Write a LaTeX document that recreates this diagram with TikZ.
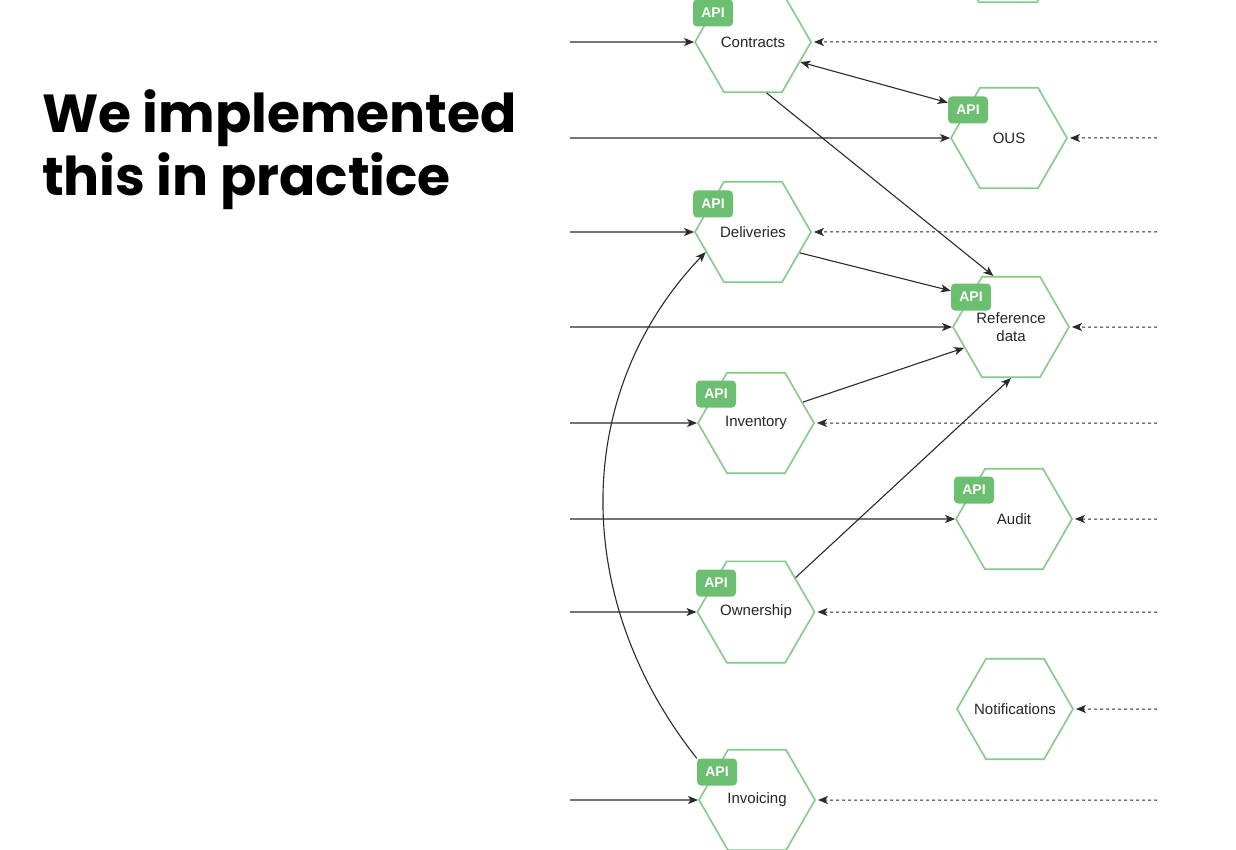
\documentclass[tikz,border=0pt]{standalone}
\usepackage{fontspec}
\setmainfont{Liberation Sans}
\newfontfamily\poppins{Poppins}
\usetikzlibrary{shapes.geometric,arrows.meta,calc}
\definecolor{hexline}{HTML}{86C98A}
\definecolor{apifill}{HTML}{6CBF70}
\definecolor{linec}{HTML}{2B2B2B}
\tikzset{
 hexa/.style={regular polygon, regular polygon sides=6, minimum size=116pt, draw=hexline, line width=1.6pt, inner sep=0pt, font=\fontsize{15}{18}\selectfont, text=black!85, align=center},
 apibox/.style={rectangle, rounded corners=4pt, fill=apifill, minimum width=40pt, minimum height=27pt, inner sep=0pt, text=white, font=\fontsize{14}{14}\selectfont\bfseries},
 conn/.style={draw=linec, line width=1.1pt, -{Stealth[length=10pt,width=8pt,inset=2.5pt]}},
 dconn/.style={draw=linec, line width=1pt, dash pattern=on 3pt off 3pt, -{Stealth[length=10pt,width=8pt,inset=2.5pt]}},
 biconn/.style={draw=linec, line width=1.1pt, {Stealth[length=10pt,width=8pt,inset=2.5pt]}-{Stealth[length=10pt,width=8pt,inset=2.5pt]}},
 titletext/.style={anchor=base west, inner sep=0pt, font=\poppins\bfseries\fontsize{53.5}{63}\selectfont}
}
\begin{document}
\begin{tikzpicture}[x=1pt,y=-1pt]
\clip (0,0) rectangle (1236,850);
\fill[white] (0,0) rectangle (1236,850);

% title
\node[titletext] (t1) at (42,133) {We implemented};
\node[titletext] (t2) at (42,196) {this in practice};

% hexagons
\node[hexa] (tophex) at (1008,-48) {};
\node[hexa] (contracts) at (753,42) {Contracts};
\node[hexa] (ous) at (1009,138) {OUS};
\node[hexa] (deliveries) at (753,232) {Deliveries};
\node[hexa] (ref) at (1011,327) {Reference\\data};
\node[hexa] (inventory) at (756,423) {Inventory};
\node[hexa] (audit) at (1014,519) {Audit};
\node[hexa] (ownership) at (756,612) {Ownership};
\node[hexa] (notif) at (1015,709) {\makebox[0pt]{Notifications}};
\node[hexa] (invoicing) at (757,800) {Invoicing};

% API badges
\node[apibox] (contractsapi) at (713,13) {API};
\node[apibox] (ousapi) at (968,110) {API};
\node[apibox] (deliveriesapi) at (713,204) {API};
\node[apibox] (refapi) at (971,297) {API};
\node[apibox] (inventoryapi) at (716,394) {API};
\node[apibox] (auditapi) at (974,490) {API};
\node[apibox] (ownershipapi) at (716,583) {API};
\node[apibox] (invoicingapi) at (717,772) {API};

% left incoming arrows
\foreach \n/\y in {contracts/42, ous/138, deliveries/232, ref/327, inventory/423, audit/519, ownership/612, invoicing/800}{
  \coordinate (L\n) at (570,\y);
  \draw[conn] (L\n) -- (\n.west);
}

% right dashed arrows
\foreach \n/\y in {contracts/42, ous/138, deliveries/232, ref/327, inventory/423, audit/519, ownership/612, notif/709, invoicing/800}{
  \coordinate (R\n) at (1157,\y);
  \draw[dconn] (R\n) -- ($(\n.east)+(2,0)$);
}

% inter-service connectors
\draw[biconn] (contracts.-23) -- (ousapi.160);
\draw[conn] (contracts.-75) -- (ref.109);
\draw[conn] (deliveries.-24) -- (refapi.163);
\draw[conn] (inventory.24) -- (ref.204);
\draw[conn] (ownership.41) -- (ref.south);
\draw[conn] (invoicingapi.north west) .. controls (571,600) and (571,393) .. (deliveries.203);
\end{tikzpicture}
\end{document}
